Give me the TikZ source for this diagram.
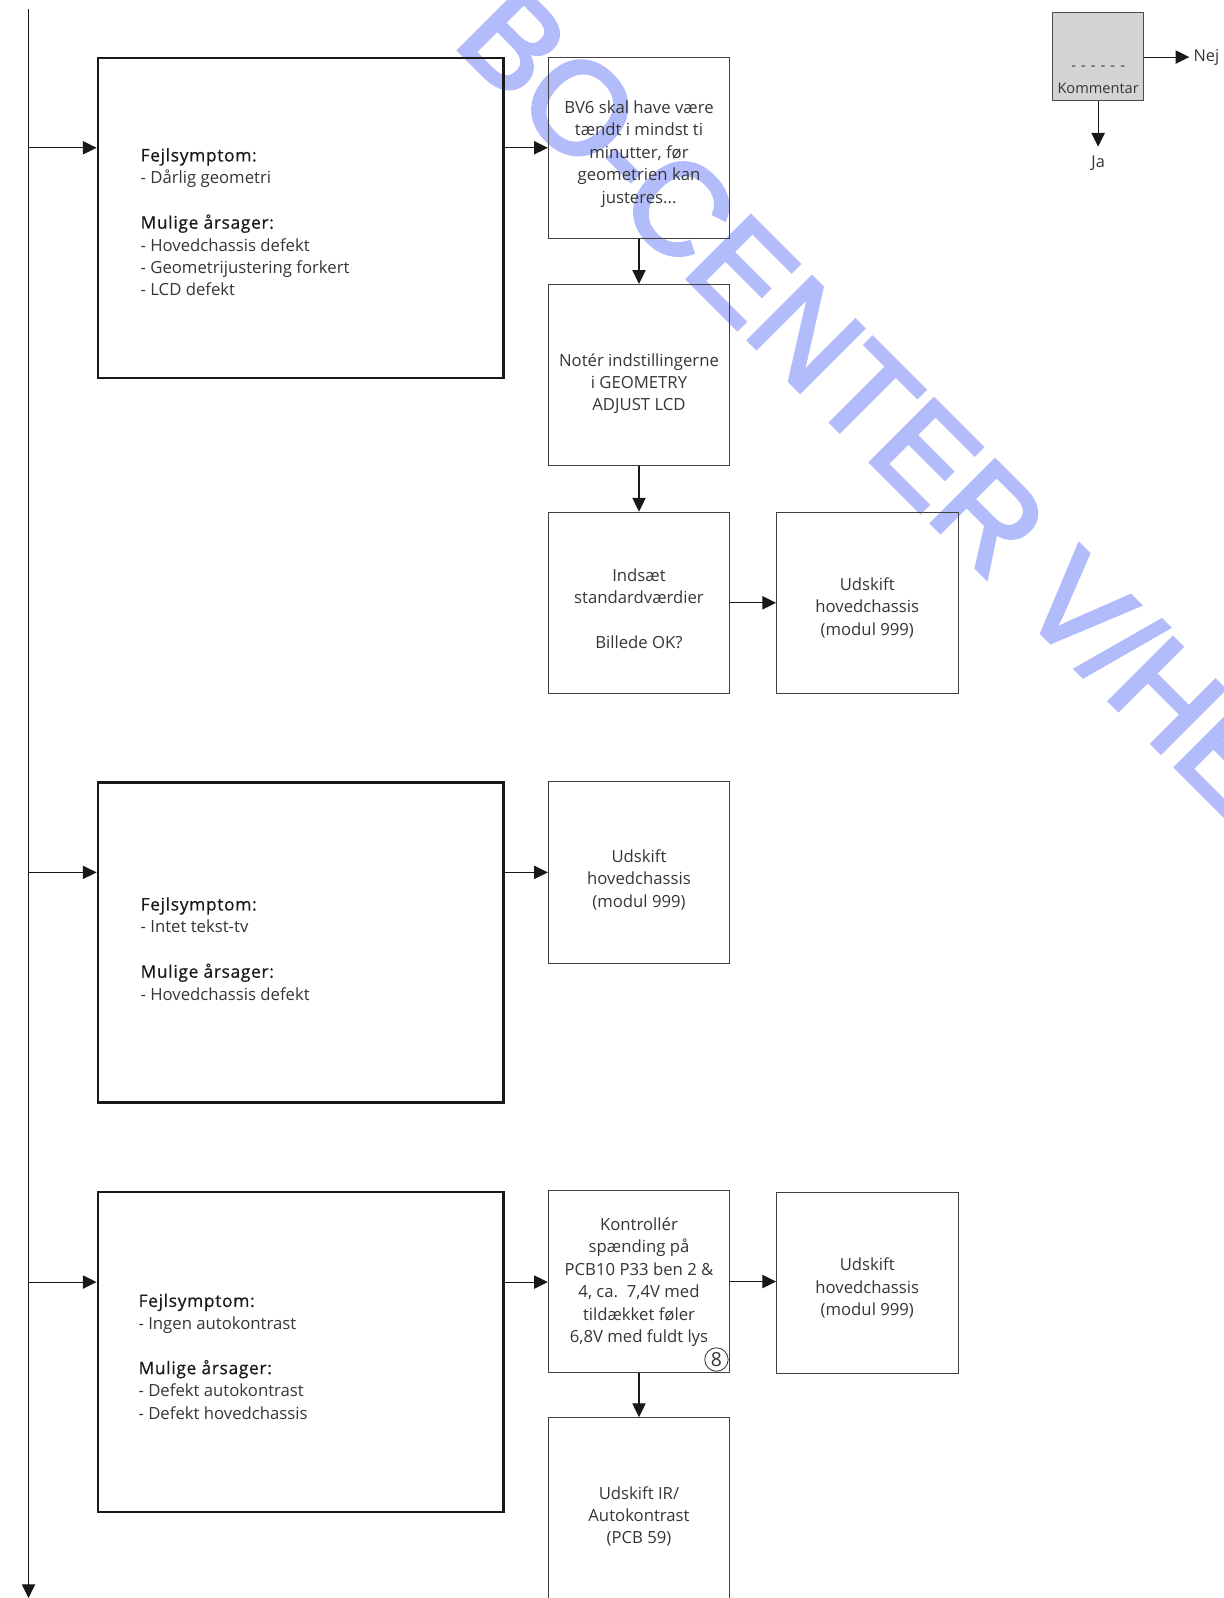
\documentclass[tikz,border=0pt]{standalone}
\usepackage{fontspec}
\setmainfont{Open Sans}
\newfontface\wmfont{Liberation Sans}[FakeBold=3]
\newfontface\hdfont{Open Sans}[FakeBold=0.6,LetterSpace=4]
\usetikzlibrary{arrows.meta}
\definecolor{txt}{HTML}{353535}
\definecolor{wm}{RGB}{178,188,250}
\definecolor{legfill}{HTML}{D4D4D4}
\newcommand{\hd}[1]{{\hdfont\fontsize{17}{22}\selectfont\color{black!90}#1}}
\newcommand{\dsh}{\hspace{1.3pt}}
\begin{document}
\begin{tikzpicture}[x=1pt,y=-1pt,
  bigbox/.style={draw=black!90,line width=2.4pt,minimum width=398pt,minimum height=314pt,inner sep=0pt},
  bigtxt/.style={anchor=west,inner sep=0pt,align=left,text=txt,font=\fontsize{16.4}{22}\selectfont},
  stepbox/.style={draw=black!75,line width=0.9pt,minimum width=178pt,minimum height=178pt,inner sep=0pt},
  steptxt/.style={inner sep=0pt,align=center,text=txt,font=\fontsize{16.4}{22}\selectfont},
  legbox/.style={draw=black!70,fill=legfill,line width=0.9pt,minimum width=89pt,minimum height=87pt,inner sep=0pt},
  arr/.style={-{Triangle[length=13.5pt,width=13pt]},line width=1.1pt,draw=black!90},
  lbl/.style={text=txt,inner sep=1pt}]
\useasboundingbox (0,0) rectangle (1201,1568);

% watermark
\begin{scope}
\clip (0,0) rectangle (1201,1568);
\node[wm, rotate=-45, font=\wmfont\fontsize{127}{127}\selectfont, inner sep=0pt, anchor=base west] (wmark) at (443,42) {BO-CENTER V/HE};
\end{scope}

% main line
\coordinate (top) at (28,9);
\coordinate (bot) at (28,1568);
\draw[arr] (top) -- (bot);

% big boxes
\node[bigbox] (b1) at (295,214) {};
\node[bigtxt] (t1) at ([xshift=43pt,yshift=-4pt]b1.west) {\hd{Fejlsymptom:}\\- Dårlig geometri\\[22pt]\hd{Mulige årsager:}\\- Hovedchassis defekt\\- Geometrijustering forkert\\- LCD defekt};
\node[bigbox] (b2) at (295,925) {};
\node[bigtxt] (t2) at ([xshift=43pt,yshift=-6pt]b2.west) {\hd{Fejlsymptom:}\\- Intet tekst-tv\\[22pt]\hd{Mulige årsager:}\\- Hovedchassis defekt};
\node[bigbox] (b3) at (295,1326.5) {};
\node[bigtxt] (t3) at ([xshift=41pt,yshift=-4.5pt]b3.west) {\hd{Fejlsymptom:}\\- Ingen autokontrast\\[22pt]\hd{Mulige årsager:}\\- Defekt autokontrast\\- Defekt hovedchassis};

% step boxes
\node[stepbox] (A) at (627,145) {};
\node[steptxt] (At) at ([yshift=-6pt]A.center) {BV6 skal have være\\tændt i mindst ti\\minutter, før\\geometrien kan\\justeres...};
\node[stepbox] (B) at (627,368) {};
\node[steptxt] (Bt) at ([yshift=-8.5pt]B.center) {Notér indstillingerne\\i GEOMETRY\\ADJUST LCD};
\node[stepbox] (C) at (627,591.5) {};
\node[steptxt] (Ct) at ([yshift=-5.5pt]C.center) {Indsæt\\standardværdier\\[22pt]Billede OK?};
\node[stepbox] (D) at (851,591.5) {};
\node[steptxt] (Dt) at ([yshift=-5pt]D.center) {Udskift\\hovedchassis\\(modul 999)};
\node[stepbox] (E) at (627,856) {};
\node[steptxt] (Et) at ([yshift=-7pt]E.center) {Udskift\\hovedchassis\\(modul 999)};
\node[stepbox] (F) at (627,1257.5) {};
\node[steptxt] (Ft) at ([yshift=-0.5pt]F.center) {Kontrollér\\spænding på\\PCB10 P33 ben 2 \&\\4, ca.\ \ 7,4V med\\tildækket føler\\6,8V med fuldt lys};
\node[stepbox] (G) at (851,1259) {};
\node[steptxt] (Gt) at ([yshift=-5pt]G.center) {Udskift\\hovedchassis\\(modul 999)};
\node[stepbox] (H) at (627,1480) {};
\node[steptxt] (Ht) at ([yshift=-8pt]H.center) {Udskift IR/\\Autokontrast\\(PCB 59)};
\node[draw=black!80, line width=0.8pt, circle, inner sep=0pt, minimum size=23pt, text=txt, font=\fontsize{19}{19}\selectfont] (c8) at (703,1334) {8};

% branches from main line
\coordinate (m1) at (28,145);
\coordinate (m2) at (28,856);
\coordinate (m3) at (28,1258);
\draw[arr] (m1) -- (m1 -| b1.west);
\draw[arr] (m2) -- (m2 -| b2.west);
\draw[arr] (m3) -- (m3 -| b3.west);

% connectors
\draw[arr] (A.west -| b1.east) -- (A.west);
\draw[arr] (A.south) -- (B.north);
\draw[arr] (B.south) -- (C.north);
\draw[arr] (C.east) -- (C.east -| D.west);
\draw[arr] (E.west -| b2.east) -- (E.west);
\draw[arr] (m3 -| b3.east) -- (m3 -| F.west);
\draw[arr] (F.east) -- (F.east -| G.west);
\draw[arr] (F.south) -- (H.north);

% legend
\node[legbox] (leg) at (1077.5,55.5) {};
\node[lbl, font=\fontsize{14.3}{16}\selectfont] (dash) at (1077.5,67) {-\dsh{} -\dsh{} -\dsh{} -\dsh{} -\dsh{} -};
\node[lbl, font=\fontsize{14.3}{16}\selectfont] (kom) at (1077.5,87) {Kommentar};
\coordinate (nejtip) at (1167,56);
\coordinate (jatip) at (1077.5,144);
\draw[arr] (leg.east |- nejtip) -- (nejtip);
\draw[arr] (leg.south) -- (jatip);
\node[lbl, anchor=west, font=\fontsize{16}{18}\selectfont] (nej) at (1170,56) {Nej};
\node[lbl, font=\fontsize{16}{18}\selectfont] (ja) at (1077.5,160) {Ja};
\end{tikzpicture}
\end{document}
